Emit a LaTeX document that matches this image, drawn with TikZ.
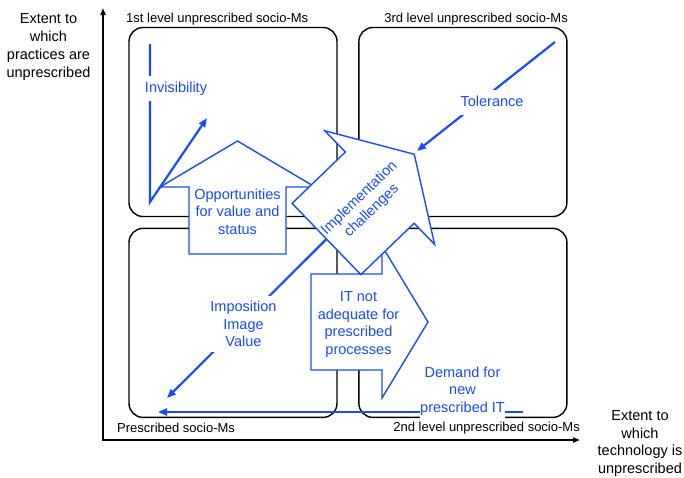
\documentclass[tikz,border=0pt]{standalone}
\usepackage{fontspec}
\setmainfont{Liberation Sans}
\usetikzlibrary{arrows.meta, positioning}

\definecolor{flowblue}{RGB}{25,75,255}

\begin{document}
\begin{tikzpicture}[
    x=1pt, y=-1pt,
    quad/.style={draw, rounded corners=14pt, line width=1.4pt, minimum width=208pt, minimum height=189pt, inner sep=0pt},
    lvl/.style={font=\fontsize{13}{15}\selectfont, inner sep=0pt},
    axlabel/.style={font=\fontsize{14.5}{17.7}\selectfont, align=center, inner sep=0pt},
    axis/.style={line width=1.8pt, {Triangle[length=7pt,width=5pt]}-{Triangle[length=7pt,width=5pt]}},
    blk/.style={draw=flowblue, fill=white, line width=1.4pt},
    txt/.style={text=flowblue, font=\fontsize{14.5}{17.6}\selectfont, align=center, inner sep=0pt},
    tag/.style={txt, fill=white, inner xsep=0.5pt, inner ysep=5.5pt},
    flow/.style={draw=flowblue, line width=2.2pt, -{Triangle[length=9pt,width=7pt]}}
]
\useasboundingbox (0,0) rectangle (684,477);

% the four quadrants
\node[quad] (tl) at (233,122) {};
\node[quad, right=20.5pt of tl] (tr) {};
\node[quad, below=10.5pt of tl] (bl) {};
\node[quad, below=10.5pt of tr] (br) {};

\node[lvl, anchor=west] (tl title) at (126,19.5) {1st level unprescribed socio-Ms};
\node[lvl, anchor=east] (tr title) at (568,19.5) {3rd level unprescribed socio-Ms};
\node[lvl, anchor=west] (bl title) at (117,427.5) {Prescribed socio-Ms};
\node[lvl, anchor=east] (br title) at (580,428) {2nd level unprescribed socio-Ms};

% axes
\coordinate (origin) at (103,440);
\coordinate (ytip) at (103,8);
\coordinate (xtip) at (580,440);
\draw[axis] (ytip) -- (origin) -- (xtip);

\node[axlabel] (ylabel) at (48.5,47) {Extent to\\which\\practices are\\unprescribed};
\node[axlabel] (xlabel) at (640,443.5) {Extent to\\which\\technology is\\unprescribed};

% block arrows
\draw[blk] (189,254) -- (189,187) -- (160,187) -- (237.5,141) -- (315,187) -- (286,187) -- (286,254) -- cycle;
\node[txt] (opp) at (237.5,211.5) {Opportunities\\for value and\\status};

\draw[blk] (311,274) -- (382,274) -- (382,246) -- (428,322) -- (382,398) -- (382,370) -- (311,370) -- cycle;
\node[txt] (itna) at (358.5,324.5) {IT not\\adequate for\\prescribed\\processes};

\begin{scope}[shift={(326.5,239)}, rotate=44]
  \draw[blk] (0,-49.5) -- (74,-49.5) -- (74,-79) -- (122,0) -- (74,79) -- (74,49.5) -- (0,49.5) -- cycle;
  \coordinate (impl tail) at (0,0);
  \coordinate (impl tip) at (122,0);
  \node[txt, rotate=44] (impl) at (52,2.5) {Implementation\\challenges};
\end{scope}

% movements between quadrants
\coordinate (vis top) at (150,44);
\coordinate (vis foot) at (150,202);
\coordinate (vis end) at (207,118);
\draw[flow] (vis top) -- (vis foot) -- (vis end);
\node[tag] (vis) at (176,88.5) {Invisibility};

\coordinate (tol start) at (555,42);
\coordinate (tol end) at (417,151);
\draw[flow] (tol start) -- (tol end);
\node[tag, text depth=3pt] (tol) at (492,102.5) {Tolerance};

\coordinate (imp end) at (167,398);
\draw[flow] (impl tail) -- (imp end);
\node[tag] (imp) at (243.5,324) {Imposition\\Image\\Value};

\coordinate (dem start) at (523,412);
\coordinate (dem end) at (158,412);
\draw[flow] (dem start) -- (dem end);
\node[tag] (dem) at (462.5,391) {Demand for\\new\\prescribed IT};

\end{tikzpicture}
\end{document}
